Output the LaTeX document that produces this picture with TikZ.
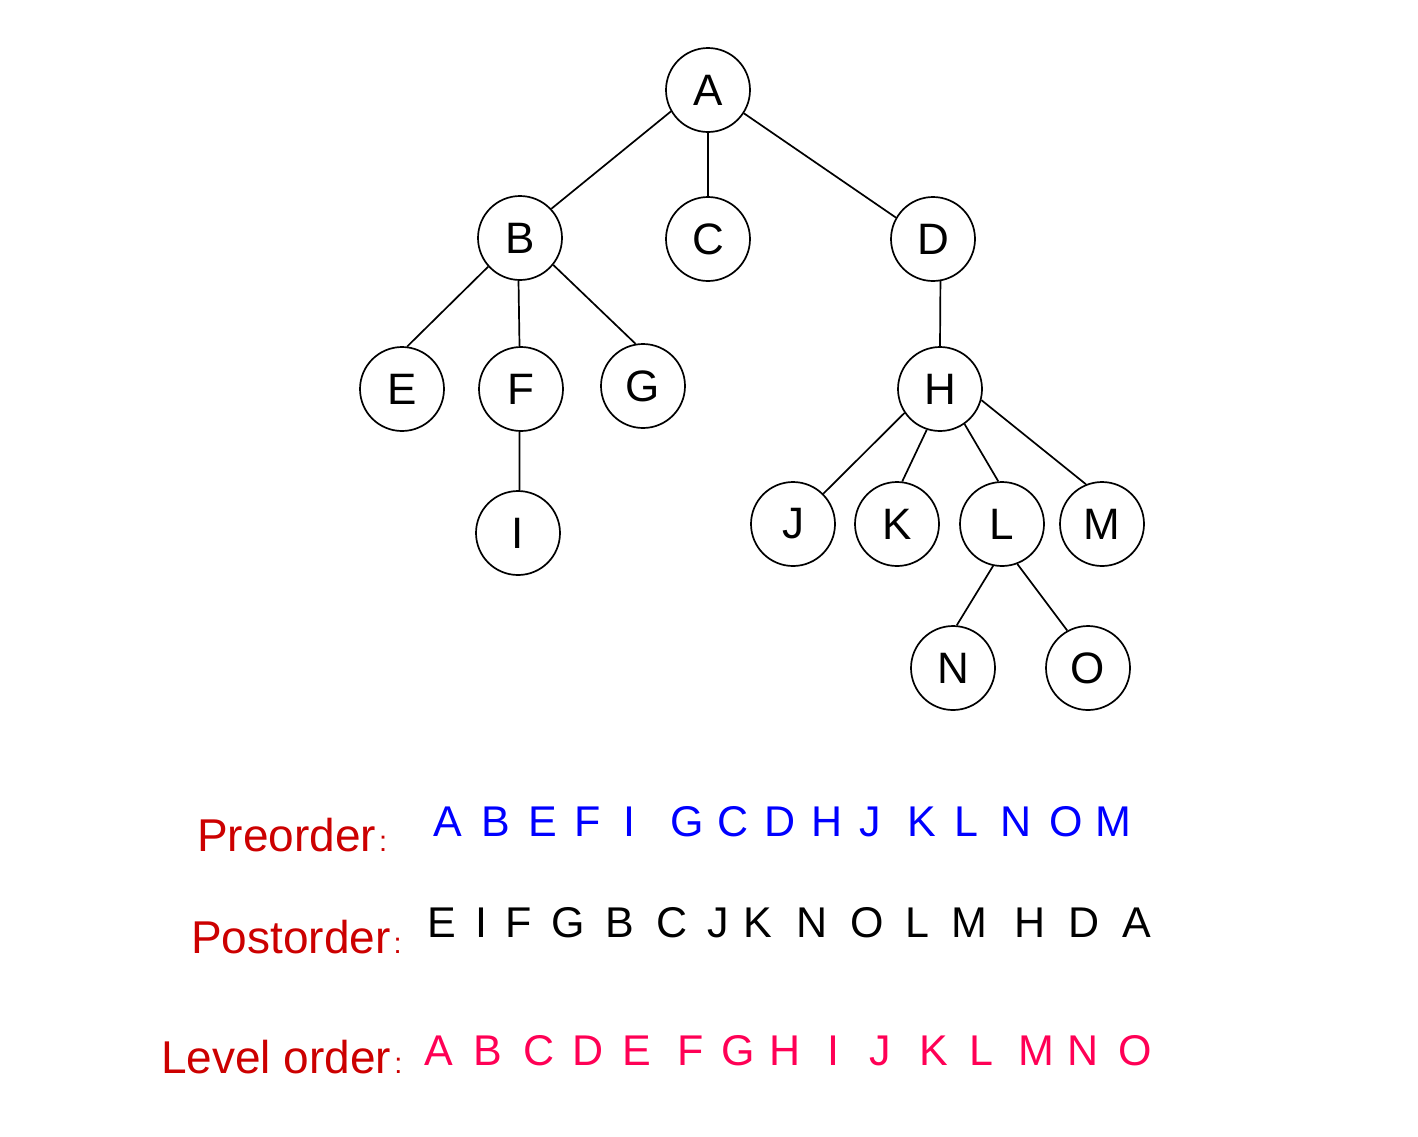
\documentclass[tikz,border=0pt]{standalone}
\usepackage{fontspec}
\setmainfont{Liberation Sans}
\definecolor{lblred}{RGB}{204,0,0}
\definecolor{preblue}{RGB}{0,0,255}
\definecolor{lvlpink}{RGB}{255,0,85}
\begin{document}
\begin{tikzpicture}[x=1pt,y=-1pt,
  tn/.style={circle,draw,line width=1.7pt,minimum size=84pt,inner sep=0pt,font=\fontsize{44}{50}\selectfont},
  edge/.style={line width=1.7pt},
  seq/.style={anchor=base,inner sep=0pt,font=\fontsize{43}{50}\selectfont},
  lbl/.style={anchor=base west,inner sep=0pt,text=lblred,font=\fontsize{46}{52}\selectfont}]
\useasboundingbox (0,0) rectangle (1418,1136);
\newcommand{\smallcolon}{\hspace{3pt}{\fontsize{29}{30}\selectfont:}}
% tree nodes
\node[tn] (A) at (708,90) {A};
\node[tn] (B) at (520,238) {B};
\node[tn] (C) at (708,239) {C};
\node[tn] (D) at (933,239) {D};
\node[tn] (E) at (402,389) {E};
\node[tn] (F) at (521,389) {F};
\node[tn] (G) at (643,386) {G};
\node[tn] (H) at (940,389) {H};
\node[tn] (I) at (518,533) {I};
\node[tn] (J) at (793,524) {J};
\node[tn] (K) at (897,524) {K};
\node[tn] (L) at (1002,524) {L};
\node[tn] (M) at (1102,524) {M};
\node[tn] (N) at (953,668) {N};
\node[tn] (O) at (1088,668) {O};
% edges
\draw[edge] (A.210) -- (B.43);
\draw[edge] (A.south) -- (C.north);
\draw[edge] (A.-33) -- (D.150);
\draw[edge] (B.222) -- (E.83);
\draw[edge] (B.-92) -- (F.92);
\draw[edge] (B.-39) -- (G.100);
\draw[edge] (D.-80) -- (H.north);
\draw[edge] (F.-92) -- (I.88);
\draw[edge] (H.214) -- (J.45);
\draw[edge] (H.252) -- (K.83);
\draw[edge] (H.-55) -- (L.95);
\draw[edge] (H.-15) -- (M.112);
\draw[edge] (L.258) -- (N.85);
\draw[edge] (L.-69) -- (O.119);
% labels
\node[lbl] (preL) at (197,851) {Preorder\smallcolon};
\node[lbl] (postL) at (191,953) {Postorder\smallcolon};
\node[lbl] (lvlL) at (161,1073) {Level order\smallcolon};
% sequences
\foreach \x/\t [count=\i] in {448/A,496/B,543/E,588/F,629/I,687/G,733/C,780/D,827/H,870/J,922/K,966/L,1016/N,1066/O,1113/M}
  \node[seq,text=preblue] (pre\i) at (\x,836) {\t};
\foreach \x/\t [count=\i] in {442/E,481/I,519/F,568/G,620/B,672/C,718/J,758/K,812/N,867/O,917/L,969/M,1030/H,1084/D,1137/A}
  \node[seq,text=black] (post\i) at (\x,937) {\t};
\foreach \x/\t [count=\i] in {439/A,488/B,539/C,588/D,637/E,691/F,738/G,785/H,833/I,880/J,934/K,981/L,1036/M,1083/N,1135/O}
  \node[seq,text=lvlpink] (lvl\i) at (\x,1065) {\t};
\end{tikzpicture}
\end{document}
